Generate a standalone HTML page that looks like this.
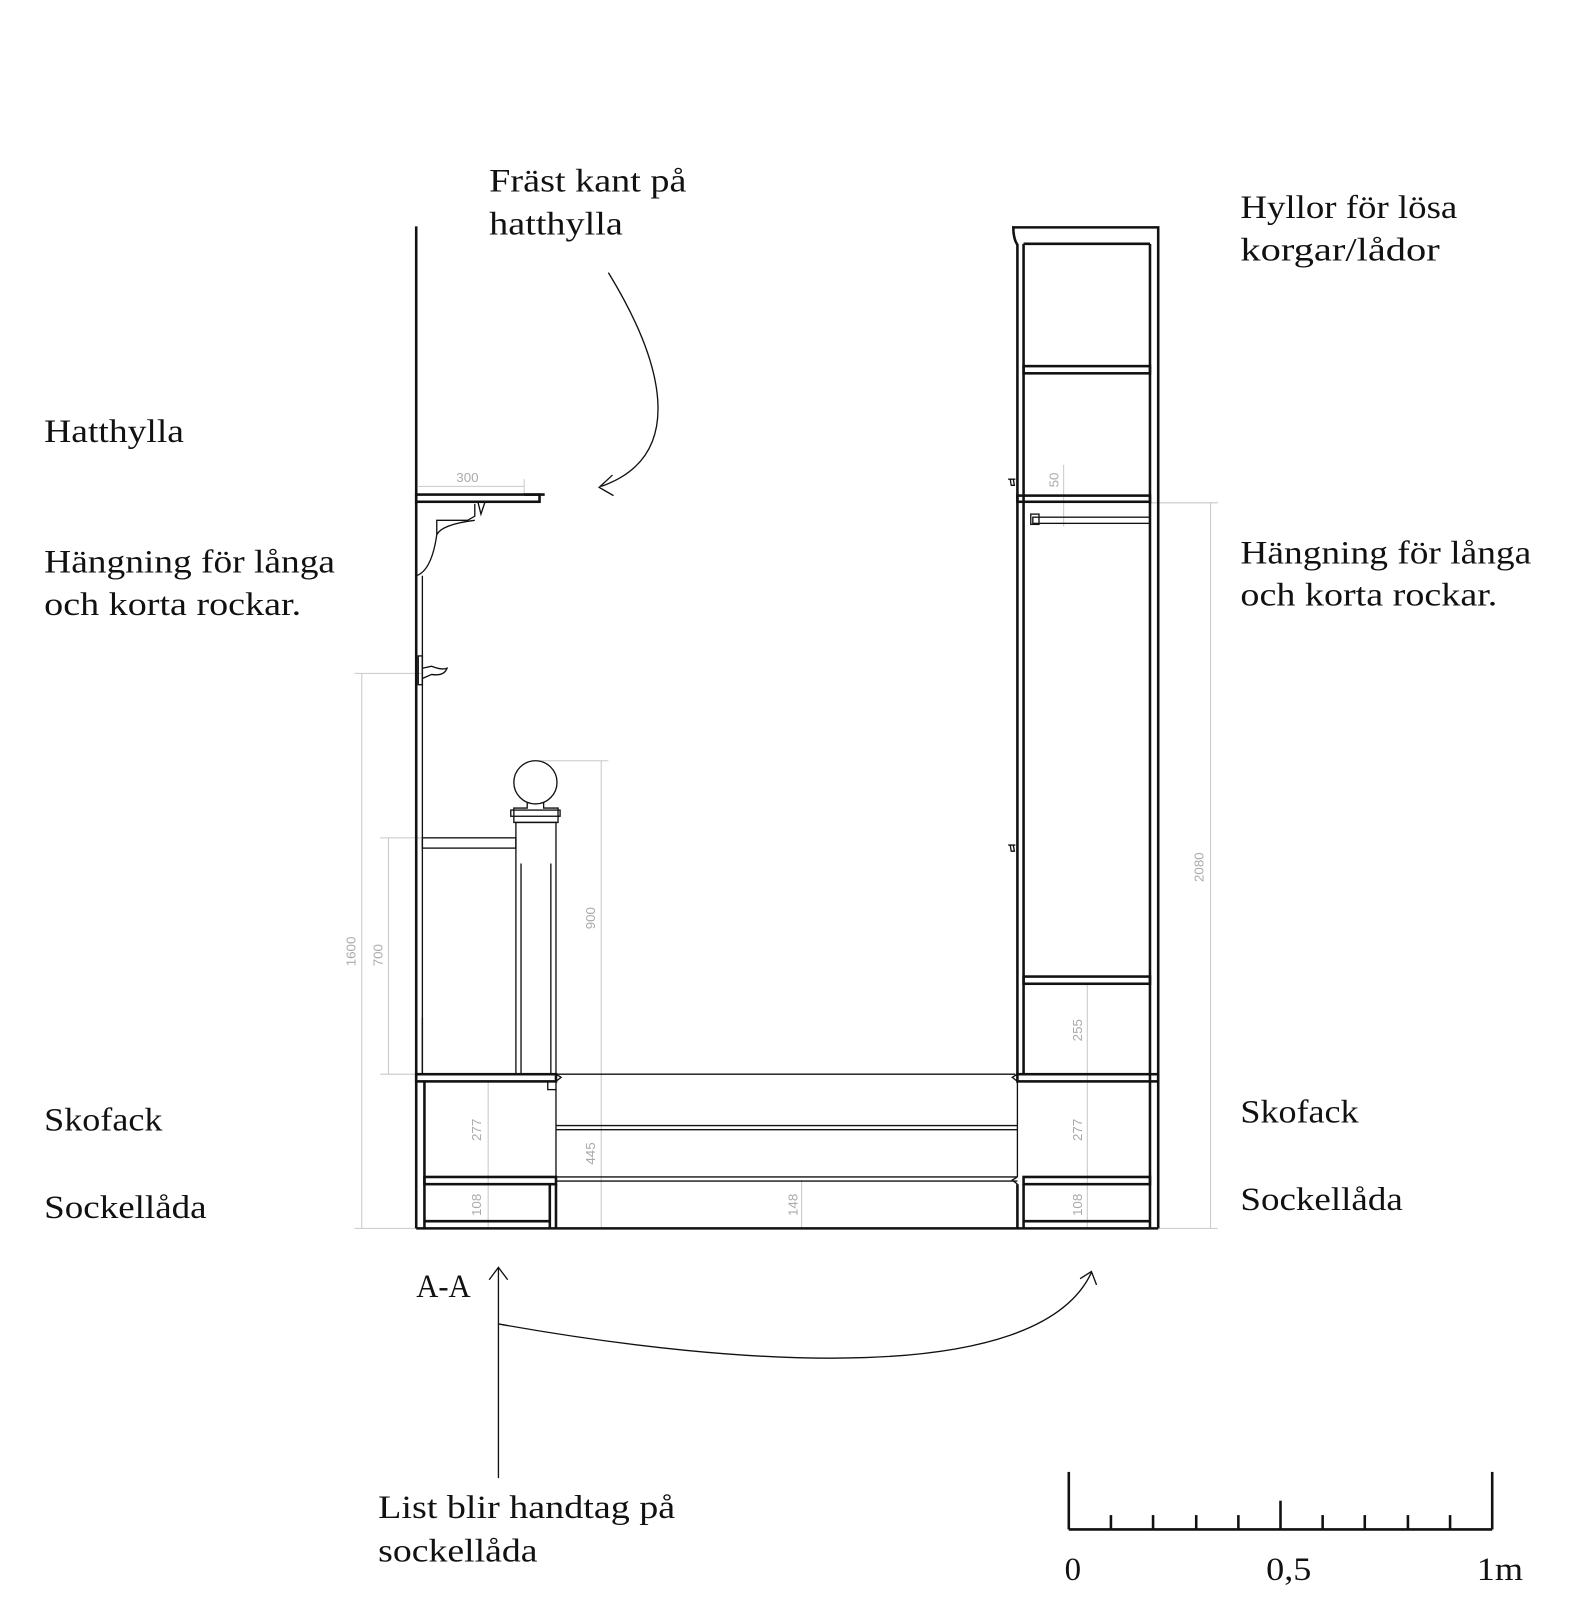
<!DOCTYPE html>
<html><head><meta charset="utf-8"><style>
html,body{margin:0;padding:0;background:#fff}
svg{display:block}
.t{font-family:"Liberation Serif",serif;font-size:32px;fill:#111}
.d{font-family:"Liberation Sans",sans-serif;font-size:13px;fill:#aaa}
.k{stroke:#111;fill:none;stroke-width:2.5}
.n{stroke:#111;fill:none;stroke-width:1.3}
.g{stroke:#c8c8c8;fill:none;stroke-width:1}
</style></head><body>
<svg width="1596" height="1614" viewBox="0 0 1553 1570" xmlns="http://www.w3.org/2000/svg">
<!-- texts -->
<g lengthAdjust="spacingAndGlyphs">
<text class="t" x="476" y="186" textLength="192" lengthAdjust="spacingAndGlyphs">Fräst kant på</text>
<text class="t" x="476" y="228" textLength="130" lengthAdjust="spacingAndGlyphs">hatthylla</text>
<text class="t" x="1207" y="212" textLength="211" lengthAdjust="spacingAndGlyphs">Hyllor för lösa</text>
<text class="t" x="1207" y="253" textLength="194" lengthAdjust="spacingAndGlyphs">korgar/lådor</text>
<text class="t" x="43" y="430" textLength="136" lengthAdjust="spacingAndGlyphs">Hatthylla</text>
<text class="t" x="43" y="557" textLength="283" lengthAdjust="spacingAndGlyphs">Hängning för långa</text>
<text class="t" x="43" y="598" textLength="250" lengthAdjust="spacingAndGlyphs">och korta rockar.</text>
<text class="t" x="1207" y="548" textLength="283" lengthAdjust="spacingAndGlyphs">Hängning för långa</text>
<text class="t" x="1207" y="589" textLength="250" lengthAdjust="spacingAndGlyphs">och korta rockar.</text>
<text class="t" x="43" y="1100" textLength="115" lengthAdjust="spacingAndGlyphs">Skofack</text>
<text class="t" x="43" y="1185" textLength="158" lengthAdjust="spacingAndGlyphs">Sockellåda</text>
<text class="t" x="1207" y="1092" textLength="115" lengthAdjust="spacingAndGlyphs">Skofack</text>
<text class="t" x="1207" y="1177" textLength="158" lengthAdjust="spacingAndGlyphs">Sockellåda</text>
<text class="t" x="405" y="1262" textLength="53" lengthAdjust="spacingAndGlyphs">A-A</text>
<text class="t" x="368" y="1477" textLength="289" lengthAdjust="spacingAndGlyphs">List blir handtag på</text>
<text class="t" x="368" y="1519" textLength="155" lengthAdjust="spacingAndGlyphs">sockellåda</text>
<text class="t" x="1036" y="1537">0</text>
<text class="t" x="1232" y="1537" textLength="44" lengthAdjust="spacingAndGlyphs">0,5</text>
<text class="t" x="1437" y="1537" textLength="45" lengthAdjust="spacingAndGlyphs">1m</text>
</g>

<!-- dimension lines -->
<g class="g">
<line x1="352" y1="655" x2="352" y2="1195"/><line x1="345" y1="655" x2="410" y2="655"/><line x1="345" y1="1195" x2="410" y2="1195"/>
<line x1="378" y1="815" x2="378" y2="1045"/><line x1="370" y1="815" x2="410" y2="815"/><line x1="370" y1="1045" x2="410" y2="1045"/>
<line x1="585" y1="740" x2="585" y2="1195"/><line x1="525" y1="740" x2="592" y2="740"/>
<line x1="475" y1="1052" x2="475" y2="1195"/>
<line x1="780" y1="1148" x2="780" y2="1195"/>
<line x1="1058" y1="957" x2="1058" y2="1195"/>
<line x1="1035" y1="452" x2="1035" y2="512"/>
<line x1="1178" y1="489" x2="1178" y2="1195"/><line x1="1120" y1="489" x2="1185" y2="489"/><line x1="1127" y1="1195" x2="1185" y2="1195"/>
<line x1="407" y1="473" x2="510" y2="473"/><line x1="510" y1="466" x2="510" y2="480"/>
</g>
<g class="d">
<text x="0" y="0" transform="translate(346,940) rotate(-90)">1600</text>
<text x="0" y="0" transform="translate(372,940) rotate(-90)">700</text>
<text x="0" y="0" transform="translate(579,904) rotate(-90)">900</text>
<text x="0" y="0" transform="translate(579,1133) rotate(-90)">445</text>
<text x="0" y="0" transform="translate(468,1110) rotate(-90)">277</text>
<text x="0" y="0" transform="translate(468,1183) rotate(-90)">108</text>
<text x="0" y="0" transform="translate(776,1183) rotate(-90)">148</text>
<text x="0" y="0" transform="translate(1053,1013) rotate(-90)">255</text>
<text x="0" y="0" transform="translate(1053,1110) rotate(-90)">277</text>
<text x="0" y="0" transform="translate(1053,1183) rotate(-90)">108</text>
<text x="0" y="0" transform="translate(1030,474) rotate(-90)">50</text>
<text x="0" y="0" transform="translate(1171,858) rotate(-90)">2080</text>
<text x="444" y="469">300</text>
</g>

<!-- left wall -->
<line class="k" x1="405" y1="220" x2="405" y2="1195"/>
<line class="n" x1="411" y1="560" x2="411" y2="1045"/>
<!-- hat shelf -->
<rect class="k" x="405" y="481" width="120" height="7"/>
<line class="k" x1="510" y1="481" x2="530" y2="481"/>
<path class="n" d="M405,560 Q420,555 425,520 L425,506 L455,506 L462,502 L462,490 M425,520 Q430,510 462,506"/>
<path class="n" d="M465,488 L468,500 L472,488"/>
<path class="n" d="M411,650 L420,648 Q430,652 435,650 Q432,658 420,656 L411,660"/>
<rect class="n" x="407" y="638" width="4" height="28"/>
<!-- rail -->
<rect class="n" x="411" y="815" width="91" height="10"/>
<!-- newel -->
<circle class="n" cx="521" cy="761" r="21"/>
<path class="n" d="M513,780 L513,786 L500,786 L500,800 L543,800 L543,786 L529,786 L529,780"/>
<rect class="n" x="497" y="788" width="48" height="6"/>
<rect class="n" x="502" y="800" width="39" height="245"/>
<line class="n" x1="507" y1="840" x2="507" y2="1045"/>
<line class="n" x1="536" y1="840" x2="536" y2="1045"/>
<!-- left bench -->
<rect class="k" x="405" y="1045" width="136" height="7"/>
<path class="n" d="M541,1045 L546,1048 L541,1052"/>
<rect class="n" x="533" y="1052" width="8" height="8"/>
<line class="k" x1="413" y1="1052" x2="413" y2="1195"/>
<line class="n" x1="541" y1="1060" x2="541" y2="1145"/>
<rect class="k" x="413" y="1145" width="128" height="7"/>
<line class="k" x1="413" y1="1188" x2="535" y2="1188"/>
<line class="k" x1="535" y1="1152" x2="535" y2="1195"/>
<line class="k" x1="541" y1="1152" x2="541" y2="1195"/>
<line class="n" x1="411" y1="990" x2="411" y2="1045"/>
<!-- middle -->
<line class="n" x1="541" y1="1045" x2="988" y2="1045"/>
<line class="n" x1="541" y1="1095" x2="990" y2="1095"/>
<line class="n" x1="541" y1="1099" x2="990" y2="1099"/>
<line class="n" x1="541" y1="1145" x2="990" y2="1145"/>
<line class="n" x1="541" y1="1149" x2="990" y2="1149"/>
<line class="k" x1="405" y1="1195" x2="1127" y2="1195"/>
<!-- right cabinet -->
<path class="k" d="M1127,1195 L1127,221 L986,221 Q986,232 990,238 L990,1045"/>
<line class="k" x1="996" y1="237" x2="996" y2="1045"/>
<line class="k" x1="1119" y1="237" x2="1119" y2="1195"/>
<line class="k" x1="996" y1="237" x2="1119" y2="237"/>
<rect class="k" x="996" y="356" width="123" height="7"/>
<rect class="k" x="990" y="482" width="129" height="6"/>
<rect class="n" x="1005" y="503" width="114" height="6"/>
<rect class="n" x="1003" y="500" width="8" height="10"/>
<rect class="k" x="996" y="950" width="123" height="7"/>
<rect class="k" x="990" y="1045" width="137" height="7"/>
<path class="n" d="M990,1045 L985,1048 L990,1052"/>
<line class="n" x1="990" y1="1052" x2="990" y2="1145"/>
<rect class="k" x="996" y="1145" width="123" height="7"/>
<path class="n" d="M990,1145 L985,1148 L990,1152"/>
<line class="k" x1="990" y1="1152" x2="990" y2="1195"/>
<line class="k" x1="996" y1="1152" x2="996" y2="1195"/>
<line class="k" x1="996" y1="1188" x2="1119" y2="1188"/>
<path class="n" d="M981,466 L988,466 M983,466 L984,472 L987,472 L986,466"/>
<path class="n" d="M981,822 L988,822 M983,822 L984,828 L987,828 L986,822"/>
<!-- arrows -->
<path class="n" d="M592,265 C650,360 665,445 585,473"/>
<path class="n" d="M596,462 L583,474 L597,482"/>
<line class="n" x1="485" y1="1438" x2="485" y2="1234"/>
<path class="n" d="M476,1245 L485,1233 L494,1245"/>
<path class="n" d="M485,1288 C720,1330 1010,1350 1062,1238"/>
<path class="n" d="M1051,1244 L1062,1237 L1067,1250"/>
<!-- scale bar -->
<g stroke="#111" stroke-width="2.5" fill="none">
<line x1="1040" y1="1488" x2="1452" y2="1488"/>
<line x1="1040" y1="1432" x2="1040" y2="1488"/>
<line x1="1452" y1="1432" x2="1452" y2="1488"/>
<line x1="1246" y1="1460" x2="1246" y2="1488"/>
<line x1="1081" y1="1474" x2="1081" y2="1488"/>
<line x1="1122" y1="1474" x2="1122" y2="1488"/>
<line x1="1164" y1="1474" x2="1164" y2="1488"/>
<line x1="1205" y1="1474" x2="1205" y2="1488"/>
<line x1="1287" y1="1474" x2="1287" y2="1488"/>
<line x1="1328" y1="1474" x2="1328" y2="1488"/>
<line x1="1370" y1="1474" x2="1370" y2="1488"/>
<line x1="1411" y1="1474" x2="1411" y2="1488"/>
</g>
</svg>
</body></html>
